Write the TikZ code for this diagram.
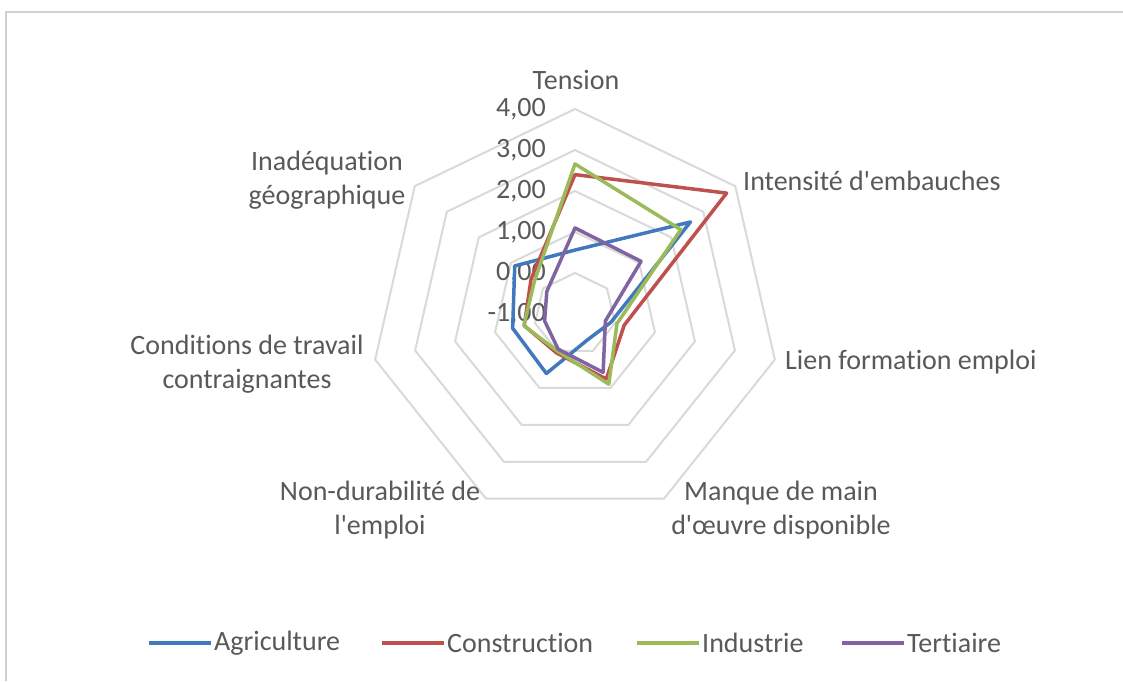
\documentclass[tikz,border=0pt]{standalone}
\usepackage{fontspec}
\setmainfont{Carlito}[Ligatures={CommonOff,TeXOff}]
\definecolor{txt}{HTML}{595959}
\definecolor{ringc}{HTML}{D9D9D9}
\definecolor{frame}{HTML}{D0D0D0}
\definecolor{agri}{HTML}{4178BE}
\definecolor{cons}{HTML}{C0504D}
\definecolor{indu}{HTML}{9BBB59}
\definecolor{tert}{HTML}{8064A2}
\newcommand\defseries[2]{%
  \foreach \v [count=\k from 0] in {#2} {
    \coordinate (#1\k) at ({575+41*(\v+1)*sin(\k*360/7)},{314-41*(\v+1)*cos(\k*360/7)});
  }%
}
\begin{document}
\begin{tikzpicture}[x=1pt,y=-1pt,
  lbl/.style={text=txt,font=\fontsize{28}{34}\selectfont,inner sep=0pt},
  ring/.style={draw=ringc,line width=2pt,line join=round},
  serie/.style={line width=3.5pt,line join=round},
  legline/.style={line width=3.5pt}]
\useasboundingbox (0,0) rectangle (1123,681);
\fill[white] (0,0) rectangle (1123,681);
\draw[frame,line width=2pt] (6,681) -- (6,12) -- (1123,12);
% rings
\foreach \r in {41,82,123,164,205} {
  \draw[ring] (575,{314-\r}) \foreach \k in {1,...,6} { -- ({575+\r*sin(\k*360/7)},{314-\r*cos(\k*360/7)}) } -- cycle;
}
% tick labels
\foreach \v/\t in {4/{4,00},3/{3,00},2/{2,00},1/{1,00},0/{0,00},-1/{-1,00}} {
  \node[lbl,anchor=east] at (546,{314-41*(\v+1)}) {\t};
}
% series
\defseries{A}{0.56,2.6,-0.1,-0.3,0.61,0.56,0.88}
\defseries{C}{2.4,3.73,0.23,0.76,0.05,0.27,0.37}
\defseries{I}{2.66,2.3,0.05,0.9,0.0,0.28,0.27}
\defseries{T}{1.1,1.06,-0.24,0.58,-0.05,-0.24,-0.12}
\draw[serie,agri] (A0)--(A1)--(A2)--(A3)--(A4)--(A5)--(A6)--cycle;
\draw[serie,cons] (C0)--(C1)--(C2)--(C3)--(C4)--(C5)--(C6)--cycle;
\draw[serie,indu] (I0)--(I1)--(I2)--(I3)--(I4)--(I5)--(I6)--cycle;
\draw[serie,tert] (T0)--(T1)--(T2)--(T3)--(T4)--(T5)--(T6)--cycle;
% axis labels
\node[lbl] (ten) at (576,80) {Tension};
\node[lbl,anchor=west] (int) at (743,181) {Intensité d'embauches};
\node[lbl,anchor=west] (lie) at (785,362) {Lien formation emploi};
\node[lbl,align=center] (man) at (781,510) {Manque de main\\d'œuvre disponible};
\node[lbl,align=center] (non) at (380,510) {Non-durabilité de\\l'emploi};
\node[lbl,align=center] (con) at (247,364) {Conditions de travail\\contraignantes};
\node[lbl,align=center] (ina) at (327,180) {Inadéquation\\géographique};
% legend
\coordinate (la1) at (149,643); \coordinate (la2) at (211,643);
\coordinate (lc1) at (382,643); \coordinate (lc2) at (444,643);
\coordinate (li1) at (637,643); \coordinate (li2) at (699,643);
\coordinate (lt1) at (842,643); \coordinate (lt2) at (904,643);
\draw[legline,agri] (la1) -- (la2);
\draw[legline,cons] (lc1) -- (lc2);
\draw[legline,indu] (li1) -- (li2);
\draw[legline,tert] (lt1) -- (lt2);
\node[lbl,anchor=west] (lga) at (214,643) {Agriculture};
\node[lbl,anchor=west] (lgc) at (447,643) {Construction};
\node[lbl,anchor=west] (lgi) at (702,643) {Industrie};
\node[lbl,anchor=west] (lgt) at (907,643) {Tertiaire};
\end{tikzpicture}
\end{document}
